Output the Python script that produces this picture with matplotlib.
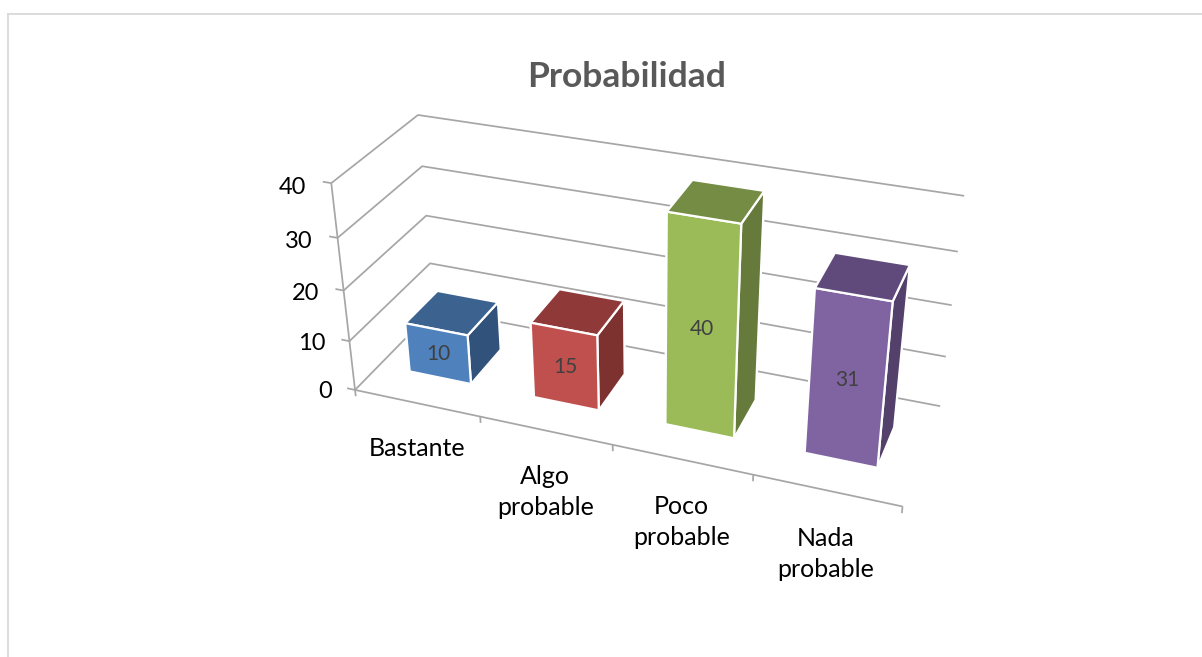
import numpy as np
import matplotlib
matplotlib.use("Agg")
import matplotlib.pyplot as plt
from matplotlib.lines import Line2D
from mpl_toolkits.mplot3d import proj3d

# ---- data ----
categories = ["Bastante", "Algo\nprobable", "Poco\nprobable", "Nada\nprobable"]
values = [10, 15, 40, 31]
value_ticks = [0, 10, 20, 30, 40]
title = "Probabilidad"
front_colors = ["#4F81BD", "#C0504D", "#9BBB59", "#8064A2"]
top_colors = ["#3C6390", "#8F3A38", "#748C43", "#604A7B"]
side_colors = ["#31527A", "#7E3230", "#667A3B", "#53406B"]
GRID = "#A6A6A6"
TEXT = "#000000"

W, H = 1202, 657
plt.rcParams["font.family"] = ["Lato", "DejaVu Sans"]
fig = plt.figure(figsize=(W / 100, H / 100), dpi=100)
ax = fig.add_axes([0, 0, 1, 1], projection="3d", computed_zorder=False)
ax.set_axis_off()
ax.apply_aspect()

# camera: calibrated from where the plot box's edges sit in the picture
# (category, depth, value) -> pixel
box_world = np.array([
    [0, 0, 0], [0, 0, 10], [0, 0, 20], [0, 0, 30], [0, 0, 40],
    [0, 1, 0], [0, 1, 10], [0, 1, 20], [0, 1, 30], [0, 1, 40],
    [4, 1, 0], [4, 1, 10], [4, 1, 20], [4, 1, 30], [4, 1, 40],
    [1, 0, 0], [2, 0, 0], [3, 0, 0], [4, 0, 0]], float)
box_pixels = np.array([
    [355, 391], [349.3, 341.7], [344, 290.7], [337.7, 237], [331, 183.3],
    [434, 309], [430, 263.7], [426, 216], [422, 166], [418.3, 115],
    [940, 406], [946, 356.7], [952, 305], [957.7, 251.7], [964, 196],
    [480, 415.5], [613, 444.5], [753.3, 474], [902.3, 507.5]], float)
box_screen = ax.transData.inverted().transform(
    np.column_stack([box_pixels[:, 0], H - box_pixels[:, 1]]))
rows = []
for (X, Y, Z), (u, v) in zip(box_world, box_screen):
    rows.append([X, Y, Z, 1, 0, 0, 0, 0, -u * X, -u * Y, -u * Z, -u])
    rows.append([0, 0, 0, 0, X, Y, Z, 1, -v * X, -v * Y, -v * Z, -v])
P = np.linalg.svd(np.array(rows))[2][-1].reshape(3, 4)
if P[2] @ np.array([0, 0, 0, 1]) < 0:
    P = -P
camera = np.vstack([P[0], P[1], [0, 0, 0, -1], P[2]])
ax.get_proj = lambda: camera
ax.M = camera


def label(x, y, z, s, **kw):
    """Text anchored at a 3D data position, drawn in the axes' 2D plane."""
    sx, sy, _ = proj3d.proj_transform(x, y, z, camera)
    ax.text2D(float(sx), float(sy), s, transform=ax.transData, clip_on=False,
              zorder=10, **kw)


line_kw = dict(color=GRID, lw=1.25, clip_on=False, zorder=1, solid_capstyle="butt")
for t in value_ticks:
    ax.plot([0, 0, 4], [0, 1, 1], [t, t, t], **line_kw)
    ax.plot([-0.065, 0], [0, 0], [t, t], **line_kw)
ax.plot([0, 0], [0, 0], [0, 40], **line_kw)
ax.plot([0, 4], [0, 0], [0, 0], **line_kw)
for i in range(5):
    ax.plot([i, i], [0, 0], [-1.3, 0], **line_kw)

bar_w, y0, y1 = 0.50, 0.29, 0.70
for i, v in enumerate(values):
    xc = i + 0.503
    faces = [front_colors[i], top_colors[i], front_colors[i],
             side_colors[i], side_colors[i], side_colors[i]]
    ax.bar3d(xc - bar_w / 2, y0, 0, bar_w, y1 - y0, v, color=faces, shade=False,
             edgecolor="white", linewidth=1.6, zorder=2 + i)
    label(xc, y0, v / 2, str(v), ha="center", va="center",
          fontsize=15, color="#404040")

for t in value_ticks:
    label(-0.2, 0, t - 1.5, str(t), ha="right", va="center",
          fontsize=17, color=TEXT)
for i, c in enumerate(categories):
    label(i + 0.5 + 0.013 * (i - 2), 0, -7.2, c, ha="center", va="top", fontsize=18,
          color=TEXT, linespacing=1.43)

fig.text(626.5 / W, 1 - 77 / H, title, ha="center", va="center",
         fontsize=25.5, fontweight="bold", color="#595959")

for xs, ys in (([8, 8], [H, 13.5]), ([8, W], [13.5, 13.5])):
    fig.add_artist(Line2D([x / W for x in xs], [1 - y / H for y in ys],
                          color="#D9D9D9", lw=1.3))

fig.savefig("out.png", dpi=100)
